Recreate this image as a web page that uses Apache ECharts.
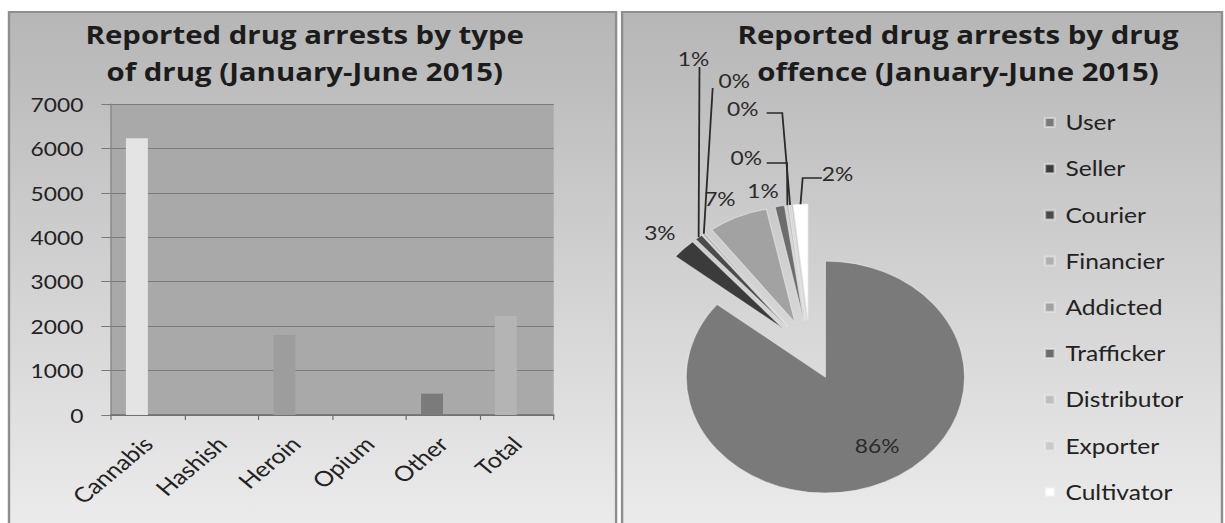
<!DOCTYPE html>
<html><head><meta charset="utf-8">
<script src="https://cdn.jsdelivr.net/npm/echarts@6/dist/echarts.min.js"></script>
<style>
html,body{margin:0;padding:0;background:#fff;overflow:hidden;}
#wrap{width:1225px;height:523px;overflow:hidden;position:relative;}
#chart{width:1021px;height:523px;transform:scaleX(1.19980);transform-origin:0 0;}
</style></head><body><div id="wrap"><div id="chart"></div></div>
<script>
// ---- data ----
const drugCategories = ['Cannabis', 'Hashish', 'Heroin', 'Opium', 'Other', 'Total'];
const drugArrests = [6230, 0, 1800, 0, 480, 2230];
const emptySeries = [null, null, null, null, null, null];
const yTickValues = [0, 1000, 2000, 3000, 4000, 5000, 6000, 7000];
const offenceNames = ['User', 'Seller', 'Courier', 'Financier', 'Addicted', 'Trafficker', 'Distributor', 'Exporter', 'Cultivator'];
const offenceShares = [85.8, 2.8, 0.9, 0.3, 6.9, 1.1, 0.3, 0.2, 1.7];

// ---- styles / layout ----
const FONT = 'Lato';
const barColors = ['#e4e4e4', '#d0d0d0', '#9d9d9d', '#c0c0c0', '#7b7b7b', '#b4b4b4'];
const sliceColors = ['#7a7a7a', '#3b3b3b', '#4b4b4b', '#b0b0b0', '#a2a2a2', '#6c6c6c', '#bebebe', '#cacaca', '#ffffff'];
const lineLabels = [false, false, true, true, false, false, true, true, true];
const pieCenter = [675, 350];
const pieRadius = 116;
const explode = 30;
// hand-placed label spots (as in the original)
const pieLabelSpots = [
  {x: 731, y: 445},
  {x: 550, y: 232},
  {x: 578, y: 58, line: [[583, 67], [583, 67]]},
  {x: 612, y: 80, line: [[594, 88], [594, 88]]},
  {x: 600, y: 198},
  {x: 636, y: 190},
  {x: 622, y: 157, line: [[656, 163], [639, 163]]},
  {x: 619, y: 108, line: [[652, 113], [639, 113]]},
  {x: 698, y: 173, line: [[669, 178], [685, 178]]}
];

function panelFill() {
  return new echarts.graphic.LinearGradient(0, 0, 0, 1, [
    {offset: 0, color: '#b6b6b6'}, {offset: 1, color: '#ededed'}
  ]);
}

const chart = echarts.init(document.getElementById('chart'), null, {renderer: 'svg'});

const pieLabel = {show: true, position: 'outside', fontSize: 19, color: '#2a2a2a', fontFamily: FONT,
                  formatter: p => Math.round(p.percent) + '%'};

const option = {
  backgroundColor: '#ffffff',
  animation: false,
  textStyle: {fontFamily: FONT},
  graphic: [
    {type: 'rect', z: -10, shape: {x: 7.5, y: 12, width: 506, height: 530},
     style: {fill: panelFill(), stroke: '#8e8e8e', lineWidth: 2}},
    {type: 'rect', z: -10, shape: {x: 518.5, y: 12, width: 500, height: 530},
     style: {fill: panelFill(), stroke: '#8e8e8e', lineWidth: 2}}
  ],
  title: [
    {text: 'Reported drug arrests by type\nof drug (January-June 2015)', left: 249, top: 11, textAlign: 'center',
     textStyle: {fontFamily: 'Open Sans', fontWeight: 'bold', fontSize: 24.5, lineHeight: 37, color: '#1c1c1c'}},
    {text: 'Reported drug arrests by drug\noffence (January-June 2015)', left: 793.5, top: 11, textAlign: 'center',
     textStyle: {fontFamily: 'Open Sans', fontWeight: 'bold', fontSize: 24.5, lineHeight: 37, color: '#1c1c1c'}}
  ],
  grid: {left: 92.5, top: 104, width: 369, height: 311, show: true, backgroundColor: '#a9a9a9', borderWidth: 0},
  xAxis: {
    type: 'category', data: drugCategories, boundaryGap: true,
    axisLine: {lineStyle: {color: '#6e6e6e', width: 1.5}},
    axisTick: {show: true, length: 5, lineStyle: {color: '#6e6e6e'}},
    axisLabel: {rotate: 45, fontSize: 21, color: '#222', margin: 25, fontFamily: FONT}
  },
  yAxis: {
    type: 'value', min: yTickValues[0], max: yTickValues[yTickValues.length - 1], interval: yTickValues[1] - yTickValues[0],
    axisLine: {show: true, lineStyle: {color: '#808080'}},
    axisTick: {show: true, length: 8, lineStyle: {color: '#7a7a7a'}},
    splitLine: {lineStyle: {color: '#7c7c7c', width: 1}},
    axisLabel: {fontSize: 19, color: '#222', margin: 23, fontFamily: FONT, formatter: v => String(v)}
  },
  legend: {
    orient: 'vertical', left: 865, top: 107, itemWidth: 8, itemHeight: 9, itemGap: 25.2, icon: 'rect',
    textStyle: {fontSize: 20.5, lineHeight: 20, color: '#222', fontFamily: FONT, padding: [0, 0, 0, 4]},
    data: offenceNames, selectedMode: false
  },
  series: [
    {type: 'bar', name: 'Arrests', data: drugArrests.map((v, i) => ({value: v, itemStyle: {color: barColors[i]}})),
     barWidth: 18.3, barGap: '0%'},
    {type: 'bar', name: 'blank', data: emptySeries, barWidth: 18.3, barGap: '0%'},
    {
      // exploded slices
      type: 'pie', name: 'offence', center: pieCenter, radius: pieRadius, startAngle: 90, clockwise: true,
      selectedMode: 'multiple', selectedOffset: explode,
      data: offenceNames.map((n, i) => ({name: n, value: offenceShares[i], selected: true, itemStyle: {color: sliceColors[i]}})),
      itemStyle: {borderColor: 'rgba(235,235,235,0.6)', borderWidth: 1},
      label: {show: false}, labelLine: {show: false},
      emphasis: {disabled: true}
    },
    {
      // data labels for the slices
      type: 'pie', name: 'labels', center: pieCenter, radius: pieRadius, startAngle: 90, clockwise: true,
      silent: true, selectedMode: false, avoidLabelOverlap: false, z: 3,
      data: offenceNames.map((n, i) => ({name: n, value: offenceShares[i], labelLine: {show: lineLabels[i]}})),
      itemStyle: {color: 'rgba(0,0,0,0)', borderWidth: 0},
      label: pieLabel,
      labelLine: {lineStyle: {color: '#2a2a2a', width: 1.5}},
      emphasis: {disabled: true},
      labelLayout: function (p) {
        const s = pieLabelSpots[p.dataIndex];
        const out = {x: s.x, y: s.y, align: 'center', verticalAlign: 'middle'};
        if (s.line && p.labelLinePoints) {
          const p0 = p.labelLinePoints[0];
          const vx = p0[0] - pieCenter[0], vy = p0[1] - pieCenter[1];
          const L = Math.hypot(vx, vy) || 1;
          const start = [p0[0] + vx / L * explode, p0[1] + vy / L * explode];
          out.labelLinePoints = [start, s.line[0], s.line[1]];
        }
        return out;
      }
    }
  ]
};
chart.setOption(option);
</script>
</body></html>
